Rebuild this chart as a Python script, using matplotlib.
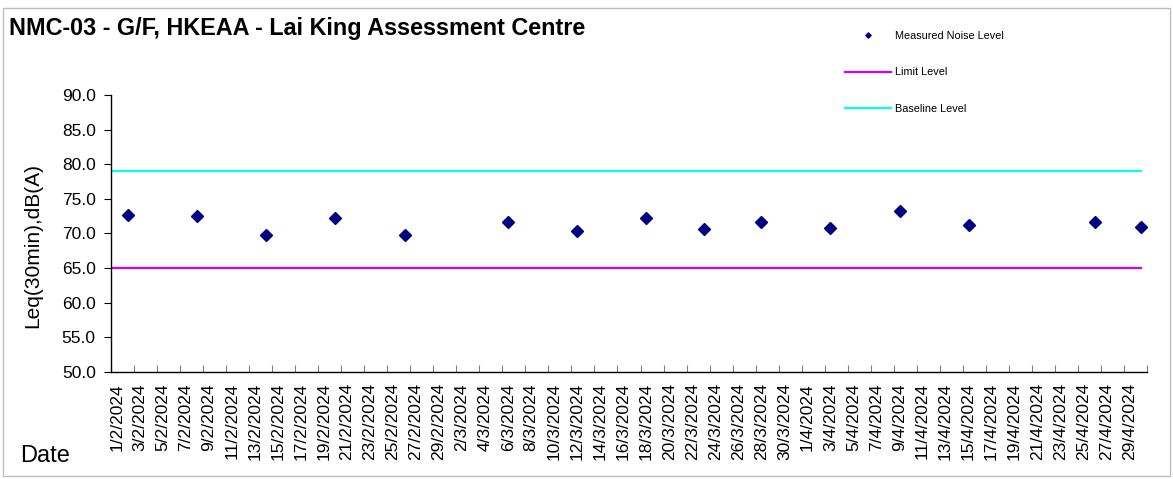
import matplotlib
matplotlib.use("Agg")
import matplotlib.pyplot as plt
import pandas as pd
from matplotlib.patches import Rectangle
from matplotlib.ticker import FixedLocator, FormatStrFormatter

plt.rcParams['font.family'] = ['Liberation Sans', 'DejaVu Sans']

# ---- data ----
category_start = "2024-02-01"
category_end = "2024-04-30"
measure_dates = ["2024-02-02", "2024-02-08", "2024-02-14", "2024-02-20", "2024-02-26",
                 "2024-03-06", "2024-03-12", "2024-03-18", "2024-03-23", "2024-03-28",
                 "2024-04-03", "2024-04-09", "2024-04-15", "2024-04-26", "2024-04-30"]
measured_values = [72.6, 72.5, 69.8, 72.3, 69.8, 71.6, 70.3, 72.2, 70.6, 71.7,
                   70.8, 73.2, 71.2, 71.7, 71.0]
limit_level = 65.0
baseline_level = 79.0
y_ticks = [50, 55, 60, 65, 70, 75, 80, 85, 90]

title = "NMC-03 - G/F, HKEAA - Lai King Assessment Centre"
y_label = "Leq(30min),dB(A)"
x_label = "Date"

# ---- build categories ----
cats = pd.date_range(category_start, category_end, freq="D")
cat_index = {d: i for i, d in enumerate(cats)}
mx = [cat_index[pd.Timestamp(d)] for d in measure_dates]
n = len(cats)
tick_pos = list(range(0, n, 2))
tick_labels = [f"{cats[i].day}/{cats[i].month}/{cats[i].year}" for i in tick_pos]

W, H = 1173, 479
fig = plt.figure(figsize=(W / 100, H / 100), dpi=100)
fig.patch.set_facecolor("white")
fig.patches.append(Rectangle((3 / W, 3 / H), (W - 6) / W, (H - 11) / H,
                             transform=fig.transFigure, fill=False,
                             edgecolor="#BFBFBF", linewidth=1.0))

left, right, top, bottom = 111, 1147, 95, 372
ax = fig.add_axes([left / W, 1 - bottom / H, (right - left) / W, (bottom - top) / H])

ln_meas, = ax.plot(mx, measured_values, linestyle="none", marker="D", markersize=6.0,
                   color="#000080", label="Measured Noise Level", zorder=3)
ln_lim, = ax.plot([-0.5, n - 1], [limit_level, limit_level], color="#CC00FF",
                  linewidth=1.6, label="Limit Level", zorder=2)
ln_base, = ax.plot([-0.5, n - 1], [baseline_level, baseline_level], color="#00FFFF",
                   linewidth=1.6, label="Baseline Level", zorder=2)

ax.set_xlim(-0.5, n - 0.5)
ax.set_ylim(50, 90)
ax.set_yticks(y_ticks)
ax.yaxis.set_major_formatter(FormatStrFormatter("%.1f"))
ax.tick_params(axis="y", direction="out", length=5, width=0.8, labelsize=12.5, pad=6)

ax.set_xticks(tick_pos)
ax.set_xticklabels(tick_labels, rotation=90, fontsize=12.5)
ax.tick_params(axis="x", which="major", length=0, pad=8)
ax.xaxis.set_minor_locator(FixedLocator([i - 0.5 for i in range(0, n + 1, 2)]))
ax.tick_params(axis="x", which="minor", direction="in", length=5, width=0.8, color="#808080")

for s in ["top", "right"]:
    ax.spines[s].set_visible(False)
for s in ["left", "bottom"]:
    ax.spines[s].set_linewidth(1.0)
    ax.spines[s].set_color("black")

ax.set_ylabel(y_label, fontsize=15)
ax.yaxis.set_label_coords((42 - left) / (right - left), (bottom - 245) / (bottom - top))

fig.text(9 / W, 1 - 35 / H, title, fontsize=16.8, fontweight="bold", ha="left", va="baseline")
fig.text(20 / W, 1 - 462 / H, x_label, fontsize=17, ha="left", va="baseline")

leg = fig.legend(handles=[ln_meas, ln_lim, ln_base], loc="upper left",
                 bbox_to_anchor=(845 / W, 1 - 31 / H), frameon=False,
                 fontsize=7.8, handlelength=4.2, handletextpad=0.4,
                 labelspacing=2.44, borderpad=0, borderaxespad=0, markerscale=0.45)

fig.savefig("out.png", dpi=100)
